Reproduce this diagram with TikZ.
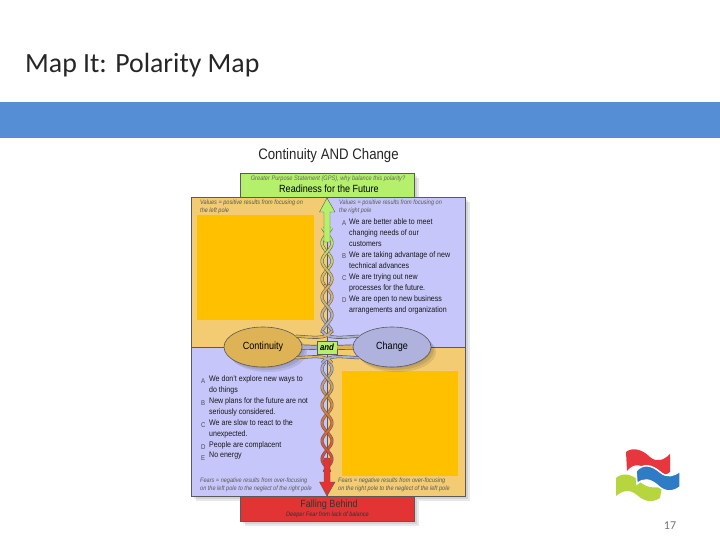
\documentclass[tikz,border=0pt]{standalone}
\usepackage{fontspec}
\setmainfont[FakeStretch=0.87]{Liberation Sans}
\newfontfamily\slidefont{Carlito}
\usetikzlibrary{calc,shapes.geometric}
\definecolor{bandblue}{HTML}{558ED5}
\definecolor{poletan}{HTML}{F2CB72}
\definecolor{polelav}{HTML}{C6C6FA}
\definecolor{blockout}{HTML}{FFC000}
\definecolor{topgreen}{HTML}{B4F06C}
\definecolor{lowred}{HTML}{E23434}
\definecolor{ovaltan}{HTML}{DDB356}
\definecolor{ovallav}{HTML}{AFB2DC}
\definecolor{strandgrey}{HTML}{A9ADCF}
\definecolor{strandorange}{HTML}{D8903C}
\definecolor{outlinegrey}{HTML}{5A5A5A}
\definecolor{logored}{HTML}{E8363E}
\definecolor{logoblue}{HTML}{2F7CC6}
\definecolor{logogreen}{HTML}{B7D53C}
\tikzset{
  softshadow/.style={fill=black,opacity=0.09,draw=none},
  panelline/.style={draw=outlinegrey,line width=0.6pt},
  oval/.style={ellipse,draw=outlinegrey,line width=0.6pt,minimum width=78pt,minimum height=40pt,font=\fontsize{10.4}{12}\selectfont,inner sep=0pt},
  smalltext/.style={align=left,anchor=north west,font=\fontsize{6.4}{8}\selectfont\itshape,text=black!65,inner sep=0pt},
  listtext/.style={align=left,anchor=north west,font=\fontsize{8.1}{11}\selectfont,text=black!90,inner sep=0pt},
  listmark/.style={anchor=north west,font=\fontsize{7}{11}\selectfont,text=black!70,inner sep=0pt},
  strandout/.style={draw=outlinegrey,line width=3pt},
  strandtan/.style={draw=ovaltan,line width=1.9pt},
  strandlav/.style={draw=strandgrey,line width=1.9pt},
}
\def\softrect(#1)(#2){\foreach \s in {1,3,5} {\fill[softshadow] ($(#1)+(\s,\s)$) rectangle ($(#2)+(\s,\s)$);}}
\def\braidpart(#1:#2)(#3:#4){%
  \foreach \ph in {0,180} {
    \draw[strandout] plot[domain=#1:#2,samples=60,smooth] ({327+5*sin(\x*10+\ph)},{\x});
    \pgfmathsetmacro\ylast{#2-2}
    \pgfmathsetmacro\ynext{#1+2}
    \foreach \y in {#1,\ynext,...,\ylast} {
      \pgfmathtruncatemacro\t{100*(\y-#1)/(#2-#1)}
      \draw[color=#4!\t!#3,line width=1.9pt] plot[domain=\y:\y+2.4,samples=4] ({327+5*sin(\x*10+\ph)},{\x});
    }
  }
}

\begin{document}
\begin{tikzpicture}[x=1pt,y=-1pt]
  \useasboundingbox[fill=white] (0,0) rectangle (720,540);

  \node[anchor=west,inner sep=0pt,font=\slidefont\fontsize{27.8}{30}\selectfont,text=black!85] (slidetitle) at (25,65.5) {Map It: Polarity Map};
  \fill[bandblue] (0,102) rectangle (720,138);

  \node[inner sep=0pt,font=\fontsize{15.2}{18}\selectfont,text=black!85] (maptitle) at (328.5,155.5) {Continuity AND Change};

  %%%%% boxes and panel
  \softrect(240,173)(414,197)
  \softrect(191,197)(465,496)
  \softrect(240,496)(414,521)
  \draw[panelline,fill=topgreen] (240,173) rectangle (414,197);
  \fill[poletan] (191,197) rectangle (327,347);
  \fill[polelav] (327,197) rectangle (465,347);
  \fill[polelav] (191,347) rectangle (327,496);
  \fill[poletan] (327,347) rectangle (465,496);
  \draw[panelline] (191,197) rectangle (465,496);
  \draw[panelline] (191,347) -- (465,347);
  \draw[panelline] (327,197) -- (327,496);
  \draw[panelline,fill=lowred] (240,496) rectangle (414,521);

  \fill[blockout] (197,215) rectangle (314,320);
  \fill[blockout] (342,371) rectangle (458,476);

  %%%%% top and bottom texts
  \node[inner sep=0pt,font=\fontsize{6.5}{8}\selectfont\itshape,text=black!60] (gps) at (328,178.5) {Greater Purpose Statement (GPS), why balance this polarity?};
  \node[inner sep=0pt,font=\fontsize{10.4}{12}\selectfont] (future) at (329,189) {Readiness for the Future};
  \node[inner sep=0pt,font=\fontsize{10.4}{12}\selectfont,text=black!80] (behind) at (329,504.5) {Falling Behind};
  \node[inner sep=0pt,font=\fontsize{6.4}{8}\selectfont\itshape,text=black!80] (deeper) at (327.5,514.5) {Deeper Fear from lack of balance};

  \node[smalltext] (valuesleft) at (200,199.5) {Values = positive results from focusing on\\the left pole};
  \node[smalltext] (valuesright) at (339,199.5) {Values = positive results from focusing on\\the right pole};
  \node[smalltext] (fearsleft) at (200,478) {Fears = negative results from over-focusing\\on the left pole to the neglect of the right pole};
  \node[smalltext] (fearsright) at (338,478) {Fears = negative results from over-focusing\\on the right pole to the neglect of the left pole};

  %%%%% lists
  \node[listmark] (ra) at (342,220) {A};
  \node[listtext] (rtexta) at (349,218) {We are better able to meet\\changing needs of our\\customers};
  \node[listmark] (rb) at (342,253) {B};
  \node[listtext] (rtextb) at (349,251) {We are taking advantage of new\\technical advances};
  \node[listmark] (rc) at (342,275) {C};
  \node[listtext] (rtextc) at (349,273) {We are trying out new\\processes for the future.};
  \node[listmark] (rd) at (342,297) {D};
  \node[listtext] (rtextd) at (349,295) {We are open to new business\\arrangements and organization};

  \node[listmark] (la) at (201,378) {A};
  \node[listtext] (ltexta) at (209,375) {We don't explore new ways to\\do things};
  \node[listmark] (lb) at (201,400) {B};
  \node[listtext] (ltextb) at (209,397) {New plans for the future are not\\seriously considered.};
  \node[listmark] (lc) at (201,422) {C};
  \node[listtext] (ltextc) at (209,419) {We are slow to react to the\\unexpected.};
  \node[listmark] (ld) at (201,444) {D};
  \node[listtext] (ltextd) at (209,441) {People are complacent};
  \node[listmark] (le) at (201,455) {E};
  \node[listtext] (ltexte) at (209,452) {No energy};

  %%%%% braids
  \braidpart(228:285)(topgreen:ovaltan)
  \braidpart(285:333)(ovaltan:strandgrey)
  \braidpart(362:395)(strandgrey:strandorange)
  \braidpart(395:472)(strandorange:lowred)

  %%%%% arrows
  \draw[outlinegrey,line width=0.4pt,fill=topgreen] (327,198) -- (335,212) -- (330,212) -- (330,242) -- (324,242) -- (324,212) -- (319.5,212) -- cycle;
  \draw[outlinegrey,line width=0.4pt,fill=lowred] (327,496) -- (335,482) -- (330,482) -- (330,458) -- (324,458) -- (324,482) -- (319.5,482) -- cycle;

  %%%%% poles
  \foreach \s in {1,3,5} {\fill[softshadow] (263+\s,347+\s) ellipse (39 and 20);\fill[softshadow] (392+\s,347+\s) ellipse (39 and 20);}
  \node[oval,fill=ovaltan] (continuity) at (263,347) {Continuity};
  \node[oval,fill=ovallav] (change) at (392,347) {Change};
  \coordinate (braidtop) at (332,331);
  \coordinate (braidlow) at (332,363);
  \coordinate (braidtopb) at (322,331);
  \coordinate (braidlowb) at (322,363);

  \draw[strandout] (continuity.18) .. controls (312,337) and (326,340) .. (braidtop);
  \draw[strandout] (continuity.-18) .. controls (312,357) and (326,354) .. (braidlow);
  \draw[strandout] (change.162) .. controls (343,337) and (328,340) .. (braidtopb);
  \draw[strandout] (change.198) .. controls (343,357) and (328,354) .. (braidlowb);
  \draw[strandtan] (continuity.18) .. controls (312,337) and (326,340) .. (braidtop);
  \draw[strandtan] (continuity.-18) .. controls (312,357) and (326,354) .. (braidlow);
  \draw[strandlav] (change.162) .. controls (343,337) and (328,340) .. (braidtopb);
  \draw[strandlav] (change.198) .. controls (343,357) and (328,354) .. (braidlowb);

  \node[draw=outlinegrey,line width=0.5pt,fill=topgreen,inner sep=0pt,minimum width=20pt,minimum height=13pt,font=\fontsize{9}{10}\selectfont\bfseries\itshape] (andbox) at (327,347.5) {and};
  \draw[outlinegrey,line width=5pt] (continuity.east) -- (andbox.west);
  \draw[strandgrey,line width=3.6pt] (continuity.east) -- (andbox.west);
  \draw[outlinegrey,line width=5pt] (andbox.east) -- (change.west);
  \draw[ovaltan,line width=3.6pt] (andbox.east) -- (change.west);

  %%%%% logo
  \fill[logored] (626,452) .. controls (632,447) and (642,449) .. (650,457) .. controls (657,463) and (664,460) .. (670,454) -- (670,472) .. controls (662,478) and (655,476) .. (648,470) .. controls (641,464) and (633,463) .. (627,471) -- cycle;
  \fill[logogreen] (616,478) .. controls (622,473) and (631,473) .. (639,481) .. controls (646,488) and (654,488) .. (662,487) -- (660,498) .. controls (652,503) and (645,502) .. (637,495) .. controls (630,489) and (623,490) .. (616,496) -- cycle;
  \draw[white,line width=1.5pt,fill=logoblue] (636,471) .. controls (643,463) and (652,465) .. (660,472) .. controls (667,478) and (674,476) .. (680,471) -- (680,487) .. controls (672,493) and (664,492) .. (657,485) .. controls (650,479) and (643,478) .. (637,484) -- cycle;

  \node[inner sep=0pt,font=\slidefont\fontsize{12}{14}\selectfont,text=black!55] (pagenum) at (670,526) {17};
\end{tikzpicture}
\end{document}
